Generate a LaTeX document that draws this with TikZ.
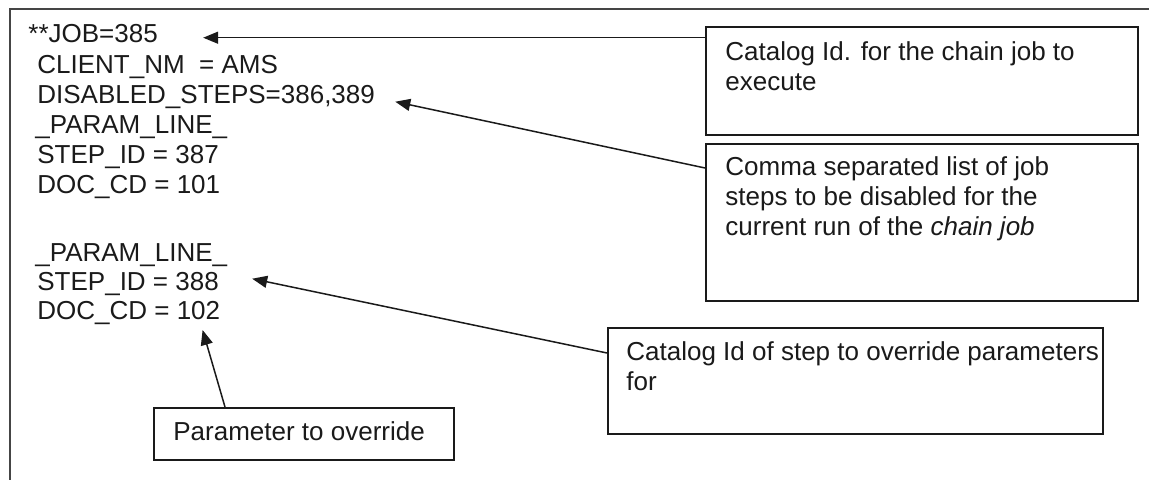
\documentclass[tikz,border=0pt]{standalone}
\usepackage{fontspec}
\setmainfont{Liberation Sans}
\usetikzlibrary{arrows.meta}

\definecolor{inkgray}{HTML}{1A1A1A}
\definecolor{framegray}{HTML}{454545}

\tikzset{
  codeline/.style={anchor=base west, inner sep=0pt, text=inkgray},
  notebox/.style={draw=inkgray, line width=0.8pt, anchor=north west, inner sep=0pt},
  notetext/.style={anchor=north west, inner sep=0pt, align=left, text=inkgray},
  pointer/.style={-{Triangle[length=7.5pt,width=6pt]}, line width=0.75pt, draw=inkgray},
}

\begin{document}
\begin{tikzpicture}[x=0.5pt, y=-0.5pt, font=\fontsize{13}{15}\selectfont]
  \clip (0,0) rectangle (1149,480);
  \fill[white] (0,0) rectangle (1149,480);
  % outer frame, cut off at the right and bottom
  \draw[framegray, line width=1pt] (1170,9.5) -- (9.5,9.5) -- (9.5,500);

  % the parameter file
  \node[codeline] (job) at (28,43) {**JOB=385};
  \node[codeline] (client) at (37,74) {CLIENT\_NM\ \ = AMS};
  \node[codeline] (disabled) at (37,104) {DISABLED\_STEPS=386,389};
  \node[codeline] (param1) at (35,134) {\_PARAM\_LINE\_};
  \node[codeline] (step1) at (37,164) {STEP\_ID = 387};
  \node[codeline] (doc1) at (37,194) {DOC\_CD = 101};
  \node[codeline] (param2) at (35,262) {\_PARAM\_LINE\_};
  \node[codeline] (step2) at (37,291) {STEP\_ID = 388};
  \node[codeline] (doc2) at (37,320) {DOC\_CD = 102};

  % callout boxes
  \node[notebox, minimum width=216pt, minimum height=54pt] (chainid) at (705,26) {};
  \node[notetext] (chainidtext) at ([shift={(20,15)}]chainid.north west)
    {Catalog Id. for the chain job to\\execute};

  \node[notebox, minimum width=216pt, minimum height=78.5pt] (skiplist) at (705,143) {};
  \node[notetext] (skiplisttext) at ([shift={(20,13)}]skiplist.north west)
    {Comma separated list of job\\steps to be disabled for the\\current run of the \textit{chain job}};

  \node[notebox, minimum width=247.5pt, minimum height=53pt] (stepid) at (607,327) {};
  \node[notetext] (stepidtext) at ([shift={(19,14)}]stepid.north west)
    {Catalog Id of step to override parameters\\for};

  \node[notebox, minimum width=150pt, minimum height=26pt] (override) at (153,407) {};
  \node[notetext] (overridetext) at ([shift={(20,14)}]override.north west)
    {Parameter to override};

  % arrows
  \coordinate (jobtip) at ([xshift=22.5pt]job.mid east);
  \draw[pointer] (chainid.west |- jobtip) -- (jobtip);
  \draw[pointer] ([yshift=-12.5pt]skiplist.north west) -- ([shift={(10pt,-1.5pt)}]disabled.mid east);
  \draw[pointer] ([yshift=-13pt]stepid.north west) -- ([shift={(16.5pt,3.5pt)}]step2.mid east);
  \draw[pointer] ([xshift=36pt]override.north west) -- ([shift={(-9pt,-5pt)}]doc2.base east);
\end{tikzpicture}
\end{document}
